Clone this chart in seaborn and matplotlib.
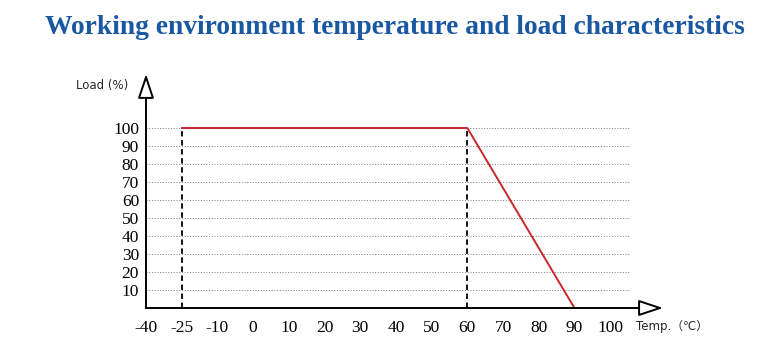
import numpy as np
import pandas as pd
import seaborn as sns
import matplotlib.pyplot as plt

# data
temp_ticks = [-40, -25, -10, 0, 10, 20, 30, 40, 50, 60, 70, 80, 90, 100]
load_ticks = [10, 20, 30, 40, 50, 60, 70, 80, 90, 100]
curve_temp = [-25, 60, 90]
curve_load = [100, 100, 0]
limit_temps = [-25, 60]

sns.set_style('white')
plt.rcParams['font.family'] = ['Liberation Serif', 'DejaVu Serif']

# the temperature axis is evenly spaced by tick, not by value
idx = list(range(len(temp_ticks)))
xp = [-190] + temp_ticks + [200]
fp = [-10] + idx + [23]


def fwd(x):
    return np.interp(x, xp, fp)


def inv(x):
    return np.interp(x, fp, xp)


fig = plt.figure(figsize=(7.75, 3.58), dpi=100)
ax = fig.add_axes([146 / 775, 50 / 358, 517 / 775, 234 / 358])
ax.set_xscale('function', functions=(fwd, inv))
ax.set_xlim(-40, 114.8)
ax.set_ylim(0, 130)

# dotted grid
ax.hlines(load_ticks, -40, 105.3, colors='#777777', linestyles=(0, (1, 1.8)), lw=0.7)

# dashed limits
ax.vlines(limit_temps, 0, 100, colors='black', linestyles=(0, (3, 2)), lw=1.3)

df = pd.DataFrame({'temp': curve_temp, 'load': curve_load})
sns.lineplot(data=df, x='temp', y='load', color='#c8262e', lw=1.4, ax=ax, sort=False)

for s in ax.spines.values():
    s.set_visible(False)

arrow = dict(arrowstyle='-|>,head_length=1.5,head_width=0.5', fc='white', ec='black', lw=1.4,
             shrinkA=0, shrinkB=0)
ax.annotate('', xy=(1, 0), xytext=(0, 0), xycoords='axes fraction', arrowprops=arrow)
ax.annotate('', xy=(0, 1), xytext=(0, 0), xycoords='axes fraction', arrowprops=arrow)

ax.set_xticks(temp_ticks)
ax.set_xticklabels([str(t) for t in temp_ticks])
ax.set_yticks(load_ticks)
ax.set_yticklabels([str(v) for v in load_ticks])
ax.tick_params(axis='both', length=0, labelsize=12.5, colors='black')
ax.tick_params(axis='x', pad=9)
ax.tick_params(axis='y', pad=5)
ax.set_xlabel('')
ax.set_ylabel('')

fig.text(76 / 775, 1 - 85 / 358, 'Load (%)', family=['DejaVu Sans'], fontsize=8.5,
         va='center', ha='left')
fig.text(636 / 775, 1 - 326 / 358, 'Temp.（℃）', family=['DejaVu Sans', 'Noto Sans CJK SC'],
         fontsize=8.5, va='center', ha='left')

fig.text(0.509, 1 - 28 / 358, 'Working environment temperature and load characteristics',
         ha='center', va='center', fontsize=19.8, fontweight='bold', color='#1a58a3',
         family=['Liberation Serif'])

plt.savefig('out.png', dpi=100)
